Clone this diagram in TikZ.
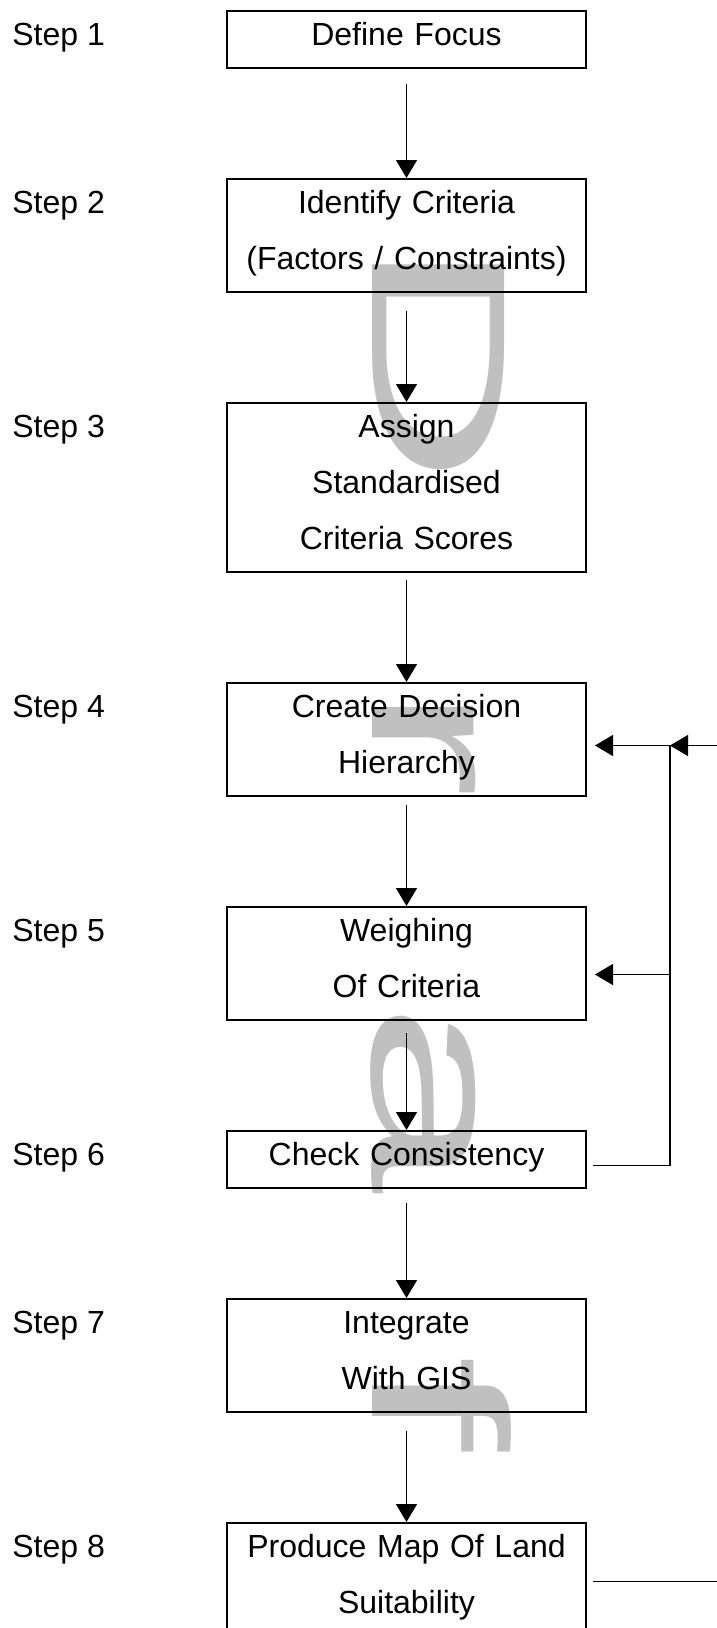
\documentclass[tikz,border=0pt]{standalone}
\usepackage{fontspec}
\setmainfont{Liberation Sans}
\usepackage{xcolor}
\usepackage{graphicx}
\usepackage{tikz}
\usetikzlibrary{arrows.meta,positioning,calc}
\definecolor{wmGray}{HTML}{C0C0C0}
\newcommand{\boxstrut}{\rule[-6.5pt]{0pt}{18.5pt}}

\begin{document}
\begin{tikzpicture}[
x=0.5pt, y=-0.5pt,
node distance=55.5pt,
every node/.style={font=\fontsize{16}{28}\selectfont},
stepbox/.style={draw, line width=1pt, align=center, inner xsep=2.25pt, inner ysep=5pt, outer sep=0pt, text width=175pt, execute at begin node=\boxstrut, execute at end node=\boxstrut},
steplbl/.style={anchor=base west, inner sep=0pt},
wm/.style={text=wmGray, anchor=base, inner sep=0pt, rotate=-90, font=\fontsize{96}{96}\selectfont},
arr/.style={-{Triangle[length=9pt,width=10.5pt]}, line width=0.6pt, shorten >=0.5pt},
fb/.style={line width=0.6pt}
]
\useasboundingbox (0,0) rectangle (717,1628);

% Watermark letters (behind everything)
\node[wm] (wD) at (372,361) {\scalebox{1.8}[1]{D}};
\node[wm] (wR) at (372,741) {\scalebox{1.8}[1]{r}};
\node[wm] (wA) at (372,1098) {\scalebox{1.8}[1]{a}};
\node[wm] (wF) at (372,1403) {\scalebox{1.8}[1]{f}};

% Main column of steps
\node[stepbox, anchor=north] (B1) at (406.5,11) {Define Focus};
\node[stepbox, below=of B1] (B2) {Identify Criteria\\(Factors / Constraints)};
\node[stepbox, below=of B2] (B3) {Assign\\Standardised\\Criteria Scores};
\node[stepbox, below=of B3] (B4) {Create Decision\\Hierarchy};
\node[stepbox, below=of B4] (B5) {Weighing\\Of Criteria};
\node[stepbox, below=of B5] (B6) {Check Consistency};
\node[stepbox, below=of B6] (B7) {Integrate\\With GIS};
\node[stepbox, below=of B7] (B8) {Produce Map Of Land\\Suitability};

\draw[arr, shorten <=8pt] (B1) -- (B2);
\draw[arr, shorten <=9.5pt] (B2) -- (B3);
\draw[arr, shorten <=4pt] (B3) -- (B4);
\draw[arr, shorten <=4.5pt] (B4) -- (B5);
\draw[arr, shorten <=6.5pt] (B5) -- (B6);
\draw[arr, shorten <=7.5pt] (B6) -- (B7);
\draw[arr, shorten <=9.5pt] (B7) -- (B8);

% Step labels on the left
\coordinate (lm) at (12,0);
\node[steplbl] (L1) at ($(B1.north -| lm)+(0,34)$) {Step 1};
\node[steplbl] (L2) at ($(B2.north -| lm)+(0,34)$) {Step 2};
\node[steplbl] (L3) at ($(B3.north -| lm)+(0,34)$) {Step 3};
\node[steplbl] (L4) at ($(B4.north -| lm)+(0,34)$) {Step 4};
\node[steplbl] (L5) at ($(B5.north -| lm)+(0,34)$) {Step 5};
\node[steplbl] (L6) at ($(B6.north -| lm)+(0,34)$) {Step 6};
\node[steplbl] (L7) at ($(B7.north -| lm)+(0,34)$) {Step 7};
\node[steplbl] (L8) at ($(B8.north -| lm)+(0,34)$) {Step 8};

% Feedback loop on the right
\coordinate (fx) at (670,0);
\coordinate (rt) at (760,0);
\coordinate (J4) at ($(B4.east -| fx)+(0,6)$);
\coordinate (J5) at ($(B5.east -| fx)+(0,11)$);
\coordinate (J6) at ($(B6.east -| fx)+(0,6)$);
\coordinate (J8) at ($(B8.east -| rt)+(0,2)$);
\draw[fb, shorten <=3.5pt] ($(B6.east)+(0,6)$) -- (J6) -- (J4);
\draw[arr, shorten >=4.5pt] (J4) -- (J4 -| B4.east);
\draw[arr, shorten >=4.5pt] (J5) -- (J5 -| B5.east);
\draw[arr, shorten >=0pt, shorten <=3.5pt] ($(B8.east)+(0,2)$) -- (J8) |- (J4);
\end{tikzpicture}
\end{document}
